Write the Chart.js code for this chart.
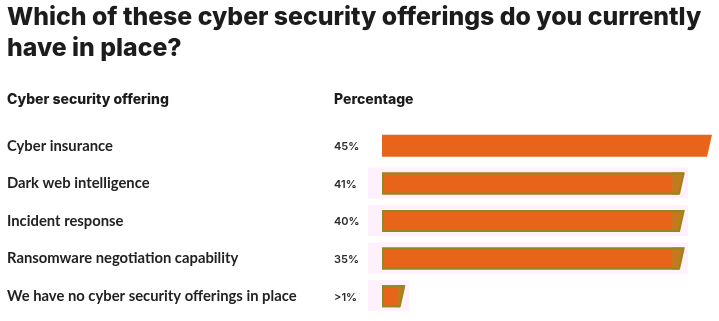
<!DOCTYPE html>
<html>
<head>
<meta charset="utf-8">
<script src="https://cdn.jsdelivr.net/npm/chart.js@4.4.1/dist/chart.umd.min.js"></script>
<style>
  html, body { margin: 0; padding: 0; background: #fff; }
  #wrap { position: relative; width: 719px; height: 321px; }
</style>
</head>
<body>
<div id="wrap"><canvas id="offerChart" width="719" height="321"></canvas></div>
<script>
const titleLines = ["Which of these cyber security offerings do you currently", "have in place?"];
const columnHeaders = ["Cyber security offering", "Percentage"];

const offerings = [
  "Cyber insurance",
  "Dark web intelligence",
  "Incident response",
  "Ransomware negotiation capability",
  "We have no cyber security offerings in place"
];
// printed percentages
const shareLabels = ["45%", "41%", "40%", "35%", ">1%"];
// bar lengths as drawn in the source graphic (rows 2-4 are drawn the same length)
const barLengths = [45, 41.2, 41.2, 41.2, 3.1];

const ORANGE = "#E8641A";
const OLIVE = "#8E8A1E";
const DARK_END = "#C27A1F";
const HALO = "#FEF0FC";

// draws the slanted bars, the % column and the column headers
const slantBars = {
  id: "slantBars",
  afterDatasetsDraw(chart) {
    const c = chart.ctx;
    const meta = chart.getDatasetMeta(0);
    meta.data.forEach((bar, i) => {
      const h = bar.height;
      const top = bar.y - h / 2;
      const bot = bar.y + h / 2;
      const left = bar.base;
      const right = bar.x;
      const slant = 5;

      if (i > 0) {
        c.fillStyle = HALO;
        c.fillRect(left - 14, top - 5, right - left + 18, h + 9);
      }

      c.beginPath();
      c.moveTo(left, top);
      c.lineTo(right, top);
      c.lineTo(right - slant, bot);
      c.lineTo(left, bot);
      c.closePath();
      c.fillStyle = ORANGE;
      c.fill();

      if (i > 0) {
        const endW = Math.min(12, (right - left) * 0.35);
        c.beginPath();
        c.moveTo(right - endW, top);
        c.lineTo(right, top);
        c.lineTo(right - slant, bot);
        c.lineTo(right - endW, bot);
        c.closePath();
        c.fillStyle = DARK_END;
        c.fill();

        c.beginPath();
        c.moveTo(left + 1, top + 1);
        c.lineTo(right - 0.5, top + 1);
        c.lineTo(right - slant, bot - 1);
        c.lineTo(left + 1, bot - 1);
        c.closePath();
        c.strokeStyle = OLIVE;
        c.lineWidth = 2;
        c.stroke();
      }

      c.fillStyle = "#2a2a2a";
      c.font = "600 11px Inter";
      c.textBaseline = "middle";
      c.textAlign = "left";
      c.fillText(shareLabels[i], 334, bar.y + 1);
    });

    c.fillStyle = "#1c1c1c";
    c.font = "800 14px Inter";
    c.textBaseline = "middle";
    c.fillText(columnHeaders[0], 7, 100);
    c.fillText(columnHeaders[1], 334, 100);
  }
};

new Chart(document.getElementById("offerChart"), {
  type: "bar",
  data: {
    labels: offerings,
    datasets: [{
      data: barLengths,
      backgroundColor: "rgba(0,0,0,0)",
      borderWidth: 0,
      barThickness: 22
    }]
  },
  options: {
    indexAxis: "y",
    responsive: false,
    animation: false,
    events: [],
    layout: { padding: { left: 7, right: 7, top: 0, bottom: 6 } },
    scales: {
      x: { display: false, min: 0, max: 45 },
      y: {
        grid: { display: false },
        border: { display: false },
        ticks: {
          crossAlign: "far",
          color: "#222",
          font: { family: "Lato", size: 14.8, weight: "700" }
        },
        afterFit(scale) {
          scale.width = 375;
          scale.paddingTop = 0;
          scale.paddingBottom = 0;
        }
      }
    },
    plugins: {
      legend: { display: false },
      tooltip: { enabled: false },
      title: {
        display: true,
        text: titleLines,
        align: "start",
        color: "#1c1c1c",
        font: { family: "Inter", size: 24.8, weight: "800", lineHeight: "31px" },
        padding: { top: 2, bottom: 63 }
      }
    }
  },
  plugins: [slantBars]
});
</script>
</body>
</html>
